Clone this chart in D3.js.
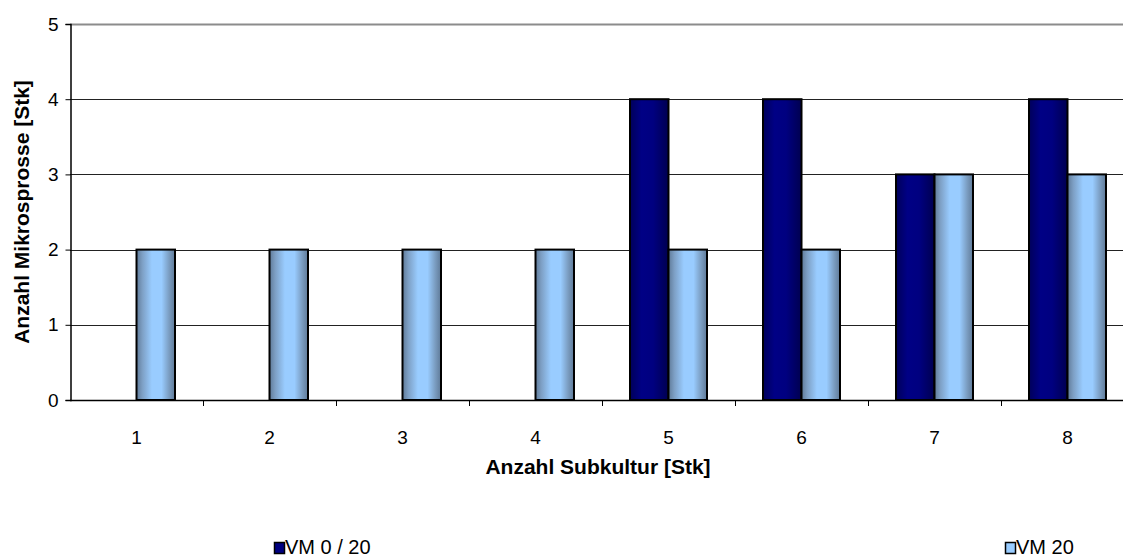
<!DOCTYPE html>
<html>
<head>
<meta charset="utf-8">
<script src="https://cdn.jsdelivr.net/npm/d3@7"></script>
<style>
  html, body { margin: 0; padding: 0; background: #fff; }
  svg { display: block; font-family: Arial, "Liberation Sans", sans-serif; }
</style>
</head>
<body>
<svg id="chart" width="1123" height="558"></svg>
<script>
// Subculture number on the x axis, micro-shoot counts per variant
const categories = ["1", "2", "3", "4", "5", "6", "7", "8"];
const seriesNames = ["VM 0 / 20", "VM 20"];
const vm0_20 = [0, 0, 0, 0, 4, 4, 3, 4];
const vm20 = [2, 2, 2, 2, 2, 2, 3, 3];
const yTicks = [0, 1, 2, 3, 4, 5];

const FONT = "Arial, 'Liberation Sans', sans-serif";
const svg = d3.select("#chart");
const W = 1123, H = 558;
const margin = { left: 70, top: 24, bottom: 158 };
const bandW = 133;
const plotRight = margin.left + bandW * categories.length; // runs past the canvas edge
const plotBottom = H - margin.bottom;

const x = d3.scaleBand().domain(categories).range([margin.left, plotRight]).paddingInner(0).paddingOuter(0);
const y = d3.scaleLinear().domain([0, 5]).range([plotBottom, margin.top]);

// gradients for the cylindrical-looking bars
const defs = svg.append("defs");
function grad(id, stops) {
  const g = defs.append("linearGradient").attr("id", id).attr("x1", "0%").attr("x2", "100%").attr("y1", "0%").attr("y2", "0%");
  stops.forEach(([o, c]) => g.append("stop").attr("offset", o).attr("stop-color", c));
}
grad("gDark", [["0%", "#00005a"], ["30%", "#000085"], ["60%", "#000080"], ["100%", "#000050"]]);
grad("gLight", [["0%", "#5f7a98"], ["15%", "#7d9fc4"], ["40%", "#99ccff"], ["65%", "#99ccff"], ["85%", "#7a9cc0"], ["100%", "#5f7a98"]]);

// horizontal gridlines
svg.append("g").selectAll("line").data(yTicks.filter(d => d > 0)).join("line")
  .attr("x1", margin.left).attr("x2", W)
  .attr("y1", d => Math.round(y(d)) + 0.5).attr("y2", d => Math.round(y(d)) + 0.5)
  .attr("stroke", d => d === 5 ? "#8c8c8c" : "#222")
  .attr("stroke-width", d => d === 5 ? 2 : 1);

// bars
const barW = 38.5;
const series = [
  { name: seriesNames[0], values: vm0_20, fill: "url(#gDark)", offset: -barW },
  { name: seriesNames[1], values: vm20, fill: "url(#gLight)", offset: 0 }
];
series.forEach(s => {
  svg.append("g").selectAll("rect").data(s.values.map((v, i) => ({ v, c: categories[i] })).filter(d => d.v > 0)).join("rect")
    .attr("x", d => x(d.c) + x.bandwidth() / 2 + s.offset)
    .attr("width", barW)
    .attr("y", d => y(d.v))
    .attr("height", d => y(0) - y(d.v))
    .attr("fill", s.fill)
    .attr("stroke", "#000")
    .attr("stroke-width", 2);
});

// y axis
const yAxis = d3.axisLeft(y).tickValues(yTicks).tickSize(5).tickPadding(7).tickFormat(d3.format("d"));
const gy = svg.append("g").attr("transform", `translate(${margin.left + 0.5},0)`).call(yAxis);
gy.attr("font-size", null).attr("font-family", null);
gy.select(".domain").attr("stroke", "#000").attr("stroke-width", 1.5);
gy.selectAll(".tick line").attr("stroke", "#000");
gy.selectAll(".tick text").style("font-size", "19px").style("font-family", FONT).attr("fill", "#000");

// x axis baseline with ticks between categories
svg.append("line").attr("x1", margin.left).attr("x2", W).attr("y1", plotBottom + 0.5).attr("y2", plotBottom + 0.5).attr("stroke", "#000").attr("stroke-width", 1.5);
svg.append("g").selectAll("line").data(categories.slice(1)).join("line")
  .attr("x1", d => Math.round(x(d)) + 0.5).attr("x2", d => Math.round(x(d)) + 0.5)
  .attr("y1", plotBottom).attr("y2", plotBottom + 6).attr("stroke", "#000");
svg.append("g").selectAll("text").data(categories).join("text")
  .attr("x", d => x(d) + x.bandwidth() / 2).attr("y", plotBottom + 44)
  .attr("text-anchor", "middle").style("font-size", "19px").text(d => d);

// axis titles
svg.append("text").attr("x", 598).attr("y", 474).attr("text-anchor", "middle")
  .style("font-size", "21px").attr("font-weight", "bold").text("Anzahl Subkultur [Stk]");
svg.append("text").attr("transform", `translate(29,${(y(0) + y(5)) / 2}) rotate(-90)`)
  .attr("text-anchor", "middle").style("font-size", "21px").attr("font-weight", "bold").text("Anzahl Mikrosprosse [Stk]");

// legend
const legendItems = [
  { name: seriesNames[0], x: 274, color: "#000080" },
  { name: seriesNames[1], x: 1005, color: "#99ccff" }
];
const lg = svg.append("g").selectAll("g").data(legendItems).join("g").attr("transform", d => `translate(${d.x},541)`);
lg.append("rect").attr("x", 0.5).attr("y", 1.5).attr("width", 10).attr("height", 11).attr("fill", d => d.color).attr("stroke", "#000").attr("stroke-width", 1.5);
lg.append("text").attr("x", 11).attr("y", 13).style("font-size", "20px").text(d => d.name);
</script>
</body>
</html>
